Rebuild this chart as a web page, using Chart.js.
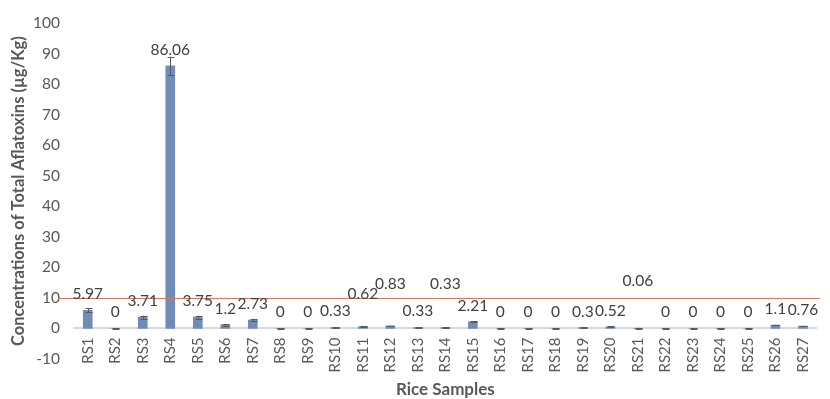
<!DOCTYPE html>
<html>
<head>
<meta charset="utf-8">
<script src="https://cdn.jsdelivr.net/npm/chart.js@4.4.1/dist/chart.umd.min.js"></script>
<style>
  html, body { margin: 0; padding: 0; background: #fff; }
  #wrap { width: 830px; height: 399px; }
</style>
</head>
<body>
<div id="wrap"><canvas id="grafico"></canvas></div>
<script>
// Amostras e valores (µg/Kg)
const amostras = ["RS1","RS2","RS3","RS4","RS5","RS6","RS7","RS8","RS9","RS10","RS11","RS12","RS13","RS14",
  "RS15","RS16","RS17","RS18","RS19","RS20","RS21","RS22","RS23","RS24","RS25","RS26","RS27"];
const valores = [5.97, 0, 3.71, 86.06, 3.75, 1.2, 2.73, 0, 0, 0.33, 0.62, 0.83, 0.33, 0.33,
  2.21, 0, 0, 0, 0.3, 0.52, 0.06, 0, 0, 0, 0, 1.1, 0.76];
const erros = [0.6, 0.2, 0.5, 3, 0.5, 0.3, 0.4, 0.2, 0.2, 0.15, 0.1, 0.1, 0.15, 0.15,
  0.2, 0.2, 0.2, 0.2, 0.15, 0.15, 0.2, 0.2, 0.2, 0.2, 0.2, 0.1, 0.1];
const limite = 10;
const yTicks = [-10, 0, 10, 20, 30, 40, 50, 60, 70, 80, 90, 100];

const CINZA = "#595959";
const FONTE = "Lato, 'Open Sans', sans-serif";

// deslocamento manual de alguns rótulos (px)
const ajusteRotulo = { 10: -17, 11: -26, 13: -27, 20: -31 };

const extras = {
  id: "extras",
  afterDatasetsDraw(chart) {
    const { ctx, chartArea, scales: { x, y } } = chart;
    const meta = chart.getDatasetMeta(0);
    ctx.save();

    // barras de erro
    ctx.strokeStyle = "#5a5a5a";
    ctx.lineWidth = 1;
    meta.data.forEach((bar, i) => {
      const top = y.getPixelForValue(valores[i] + erros[i]);
      const bot = y.getPixelForValue(valores[i] - erros[i]);
      const cx = Math.round(bar.x) + 0.5;
      ctx.beginPath();
      ctx.moveTo(cx, top); ctx.lineTo(cx, bot);
      ctx.moveTo(cx - 3, Math.round(top) + 0.5); ctx.lineTo(cx + 4, Math.round(top) + 0.5);
      ctx.moveTo(cx - 3, Math.round(bot) + 0.5); ctx.lineTo(cx + 4, Math.round(bot) + 0.5);
      ctx.stroke();
    });

    // linha do limite
    const ly = Math.round(y.getPixelForValue(limite)) + 0.5;
    ctx.strokeStyle = "#d4785f";
    ctx.beginPath();
    ctx.moveTo(chartArea.left - 16, ly);
    ctx.lineTo(chartArea.right + 3, ly);
    ctx.stroke();

    // rótulos de dados
    ctx.fillStyle = "#404040";
    ctx.font = "15.5px " + FONTE;
    ctx.textAlign = "center";
    ctx.textBaseline = "middle";
    meta.data.forEach((bar, i) => {
      const yy = y.getPixelForValue(valores[i]) - 16 + (ajusteRotulo[i] || 0);
      ctx.fillText(String(valores[i]), bar.x, yy);
    });
    ctx.restore();
  }
};

new Chart(document.getElementById("grafico"), {
  type: "bar",
  data: {
    labels: amostras,
    datasets: [{
      data: valores,
      backgroundColor: "#6f8db7",
      barThickness: 9
    }]
  },
  options: {
    responsive: true,
    maintainAspectRatio: false,
    animation: false,
    layout: { padding: { top: 19, bottom: 40, left: 0, right: 3 } },
    plugins: { legend: { display: false }, tooltip: { enabled: false } },
    scales: {
      x: {
        position: { y: 0 },
        grid: { display: false, drawTicks: false },
        border: { display: true, color: "#d9d9d9", width: 2 },
        ticks: { color: CINZA, font: { size: 15, family: FONTE }, maxRotation: 90, minRotation: 90, padding: 9, autoSkip: false },
        title: { display: true, text: "Rice Samples", color: CINZA, font: { size: 17, weight: "bold", family: FONTE }, padding: { top: -2, bottom: 0 } }
      },
      y: {
        min: -10,
        max: 100,
        afterFit: s => { s.width = 74; },
        afterBuildTicks: s => { s.ticks = yTicks.map(v => ({ value: v })); },
        grid: { display: false, drawTicks: false },
        border: { display: false },
        ticks: { color: CINZA, font: { size: 15.5, family: FONTE }, padding: 14 },
        title: { display: true, text: "Concentrations of Total Aflatoxins (µg/Kg)", color: CINZA, font: { size: 16.5, weight: "bold", family: FONTE }, padding: { top: 9, bottom: 4 } }
      }
    }
  },
  plugins: [extras]
});
</script>
</body>
</html>
